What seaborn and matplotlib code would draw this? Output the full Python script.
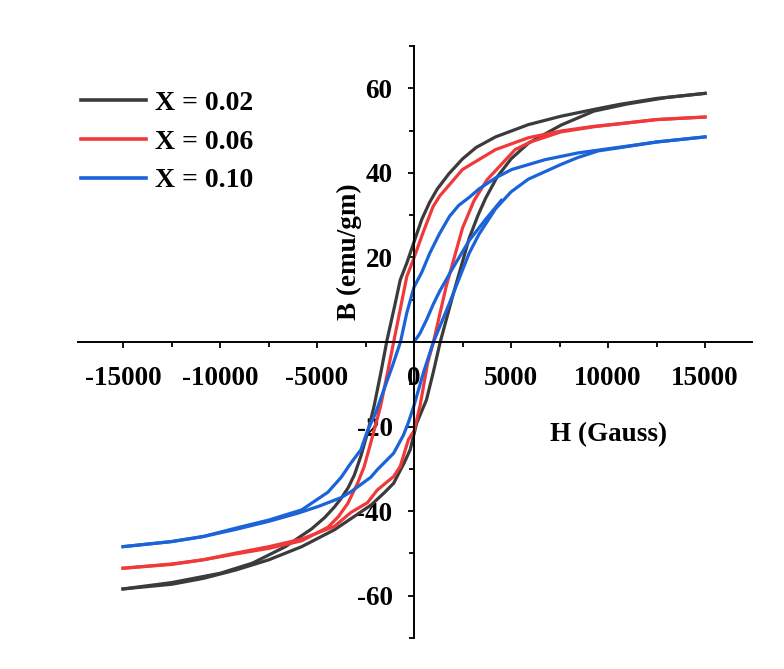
import numpy as np
import pandas as pd
import matplotlib
matplotlib.use("Agg")
import matplotlib.pyplot as plt
import seaborn as sns
from matplotlib.ticker import MultipleLocator

# ---------------- data ----------------
samples = ["X = 0.02", "X = 0.06", "X = 0.10"]
colors = ["#3b3b3b", "#f0393b", "#1a63d8"]

# X = 0.02 : descending-field branch
H_02_down = [15000, 12500, 10600, 9270, 7580, 5890, 4200, 3200, 2500, 1800, 1200, 800, 400, 135,
             -370, -710, -1000, -1390, -1700, -2060, -2400, -2740, -3080, -3400, -3760, -4100,
             -4600, -5280, -6630, -8330, -10000, -12500, -15000]
B_02_down = [58.8, 57.6, 56.2, 55.0, 53.4, 51.4, 48.5, 46.0, 43.3, 39.8, 36.2, 33.0, 29.0, 25.5,
             18.7, 14.7, 8.5, 0.5, -7.0, -15.2, -21.5, -27.0, -31.5, -34.5, -37.0, -39.0,
             -41.5, -44.2, -48.4, -52.3, -54.7, -56.9, -58.4]
# X = 0.02 : ascending-field branch
H_02_up = [-15000, -12500, -10860, -9170, -7480, -5790, -4100, -3000, -2200, -1500, -1050, -500, -200,
           135, 640, 1000, 1350, 2000, 2500, 2840, 3300, 3690, 4280, 5000, 5890, 7580, 9270, 11000,
           13000, 15000]
B_02_up = [-58.4, -57.3, -55.9, -53.9, -51.5, -48.4, -44.4, -41.0, -38.5, -35.5, -33.4, -28.5, -25.5,
           -19.2, -13.7, -7.0, 0.0, 11.0, 19.0, 24.5, 30.0, 34.0, 39.0, 43.3, 47.0, 51.3, 54.6, 56.3,
           57.8, 58.8]

# X = 0.06
H_06_down = [15000, 12500, 10960, 9270, 7580, 5890, 4200, 2500, 1320, 980, 474, -34, -372, -700,
             -1050, -1400, -1725, -2233, -2572, -2910, -3418, -3900, -4433, -5787, -7480, -9170,
             -10860, -12500, -15000]
B_06_down = [53.2, 52.6, 51.8, 51.0, 49.9, 48.3, 45.5, 40.8, 34.5, 32.0, 26.0, 19.5, 15.5, 8.0,
             0.0, -8.0, -15.2, -23.9, -29.5, -33.4, -38.2, -41.3, -43.8, -47.0, -48.8, -50.1,
             -51.5, -52.5, -53.5]
H_06_up = [-15000, -12500, -10860, -9170, -7480, -5790, -4100, -3250, -2400, -1894, -1050, -710, -290,
           0, 305, 700, 1000, 1660, 2503, 3100, 3770, 5212, 6000, 7580, 9270, 10960, 12500, 15000]
B_06_up = [-53.5, -52.6, -51.5, -49.9, -48.4, -46.6, -43.6, -40.3, -38.0, -35.0, -31.8, -29.4, -23.1,
           -21.0, -15.2, -5.0, 0.0, 13.2, 27.0, 33.5, 38.4, 45.5, 47.3, 49.7, 50.9, 51.8, 52.6, 53.2]

# X = 0.10
H_10_down = [15000, 12500, 10960, 8430, 6740, 5040, 4200, 3350, 2843, 2300, 1827, 1300, 812, 400, 0,
             -372, -700, -1100, -1556, -1980, -2400, -2741, -3249, -3756, -4433, -5787, -7477, -9172,
             -10863, -12500, -15000]
B_10_down = [48.5, 47.3, 46.3, 44.7, 43.1, 40.8, 38.8, 36.2, 34.2, 32.3, 29.7, 25.5, 21.0, 16.5, 13.0,
             6.9, 0.0, -5.5, -11.3, -16.8, -21.0, -25.5, -28.6, -32.0, -35.5, -39.7, -42.1, -44.0,
             -46.0, -47.2, -48.4]
H_10_up = [-15000, -12500, -10860, -9170, -7480, -6000, -4941, -3756, -3249, -2233, -1894, -1050, -543,
           -288, 0, 500, 1000, 1827, 2843, 3350, 4200, 5000, 5888, 7580, 8430, 9500, 10960, 12500, 15000]
B_10_up = [-48.4, -47.2, -46.0, -44.3, -42.4, -40.5, -38.9, -36.8, -35.4, -32.0, -30.2, -26.3, -22.0,
           -19.0, -15.0, -7.0, 0.0, 9.2, 21.0, 25.5, 31.5, 35.5, 38.5, 42.0, 43.6, 45.2, 46.2, 47.3, 48.5]
H_10_init = [0, 300, 650, 1000, 1320, 2000, 2843, 3690, 4500]
B_10_init = [0.0, 2.0, 5.3, 9.0, 12.0, 17.5, 24.0, 29.0, 33.5]

x_ticks = [-15000, -10000, -5000, 0, 5000, 10000, 15000]
y_ticks = [-60, -40, -20, 20, 40, 60]

# ---------------- build long table ----------------
branches = [
    (samples[0], "down", H_02_down, B_02_down),
    (samples[0], "up", H_02_up, B_02_up),
    (samples[1], "down", H_06_down, B_06_down),
    (samples[1], "up", H_06_up, B_06_up),
    (samples[2], "down", H_10_down, B_10_down),
    (samples[2], "up", H_10_up, B_10_up),
    (samples[2], "init", H_10_init, B_10_init),
]
frames = []
for s, br, h, b in branches:
    frames.append(pd.DataFrame({"H": h, "B": b, "sample": s, "branch": s + br}))
df = pd.concat(frames, ignore_index=True)

# ---------------- figure ----------------
plt.rcParams["font.family"] = ["Liberation Serif", "DejaVu Serif"]
plt.rcParams["font.weight"] = "bold"
plt.rcParams["axes.labelweight"] = "bold"

W, Hpx = 784, 669
ax_left, ax_right, ax_top, ax_bot = 78, 752, 46, 638

fig = plt.figure(figsize=(W / 100, Hpx / 100), dpi=100)
ax = fig.add_axes([ax_left / W, 1 - ax_bot / Hpx, (ax_right - ax_left) / W, (ax_bot - ax_top) / Hpx])

sns.lineplot(data=df, x="H", y="B", hue="sample", units="branch", estimator=None, sort=False,
             palette=dict(zip(samples, colors)), hue_order=samples, linewidth=2.3, ax=ax)

ax.set_xlim(-17320, 17420)
ax.set_ylim(-70, 70)

for side in ["top", "right"]:
    ax.spines[side].set_visible(False)
ax.spines["left"].set_position(("data", 0))
ax.spines["bottom"].set_position(("data", 0))
for side in ["left", "bottom"]:
    ax.spines[side].set_linewidth(1.4)
    ax.spines[side].set_color("black")

ax.set_xticks(x_ticks)
ax.set_xticklabels([str(v) for v in x_ticks])
ax.set_yticks(y_ticks)
ax.set_yticklabels([str(v) for v in y_ticks])
ax.xaxis.set_minor_locator(MultipleLocator(2500))
ax.yaxis.set_minor_locator(MultipleLocator(10))
ax.tick_params(axis="x", which="major", direction="out", length=4.5, width=1.3, pad=13,
               labelsize=19.5)
ax.tick_params(axis="y", which="major", direction="out", length=4.5, width=1.3, pad=11,
               labelsize=19.5)
ax.tick_params(which="minor", direction="out", length=3.5, width=1.3)
for lab in ax.get_xticklabels() + ax.get_yticklabels():
    lab.set_fontweight("bold")

ax.set_xlabel("H (Gauss)", fontsize=19.5, fontweight="bold")
ax.xaxis.set_label_coords(0.787, 0.343)
ax.xaxis.label.set_va("center")
ax.set_ylabel("B (emu/gm)", fontsize=19.5, fontweight="bold")
ax.yaxis.set_label_coords(0.402, 0.652)
ax.yaxis.label.set_va("center")

sns.move_legend(ax, "upper left", bbox_to_anchor=(0.103, 0.865), bbox_transform=fig.transFigure,
                frameon=False, title=None, handlelength=2.35, handletextpad=0.32,
                labelspacing=0.48, borderpad=0, borderaxespad=0,
                prop={"weight": "bold", "size": 20})
for line in ax.get_legend().get_lines():
    line.set_linewidth(2.6)

fig.savefig("out.png", dpi=100)
